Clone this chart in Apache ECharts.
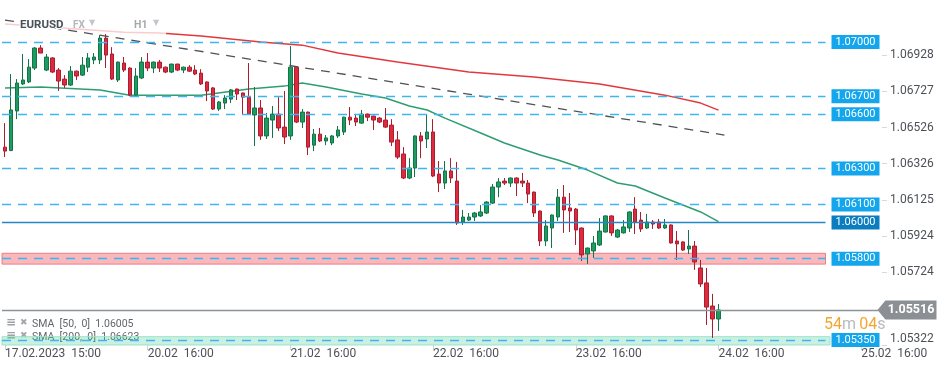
<!DOCTYPE html>
<html><head><meta charset="utf-8">
<script src="https://cdn.jsdelivr.net/npm/echarts@6/dist/echarts.min.js"></script>
<style>html,body{margin:0;padding:0;background:#fff}#c{width:949px;height:370px}</style>
</head><body><div id="c"></div>
<script>
// ---- data ----
// candle OHLC as [open, close, low, high], hourly from 17.02.2023 15:00
const candles = [
[1.06418,1.06396,1.06363,1.06551],[1.06399,1.06624,1.06396,1.06823],[1.06618,1.06773,1.06573,1.06795],
[1.06768,1.06790,1.06762,1.06934],[1.06779,1.06861,1.06773,1.06906],[1.06856,1.06967,1.06845,1.06972],
[1.06967,1.06939,1.06939,1.06983],[1.06845,1.06917,1.06839,1.06934],[1.06912,1.06834,1.06828,1.06917],
[1.06845,1.06784,1.06729,1.06856],[1.06795,1.06762,1.06746,1.06817],[1.06762,1.06839,1.06757,1.06867],
[1.06839,1.06812,1.06790,1.06842],[1.06817,1.06872,1.06812,1.06917],[1.06861,1.06912,1.06834,1.06939],
[1.06901,1.06917,1.06878,1.06939],[1.06901,1.07022,1.06878,1.07039],[1.07022,1.06928,1.06856,1.07044],
[1.06934,1.06795,1.06790,1.06972],[1.06790,1.06889,1.06779,1.06892],[1.06884,1.06845,1.06834,1.06917],
[1.06856,1.06706,1.06700,1.06860],[1.06706,1.06812,1.06701,1.06856],[1.06801,1.06889,1.06795,1.06917],
[1.06889,1.06856,1.06839,1.06939],[1.06856,1.06889,1.06828,1.06892],[1.06889,1.06856,1.06834,1.06901],
[1.06861,1.06834,1.06828,1.06864],[1.06834,1.06878,1.06828,1.06880],[1.06878,1.06845,1.06839,1.06880],
[1.06845,1.06861,1.06828,1.06864],[1.06861,1.06839,1.06834,1.06872],[1.06845,1.06823,1.06817,1.06872],
[1.06828,1.06768,1.06762,1.06850],[1.06779,1.06729,1.06673,1.06782],[1.06746,1.06629,1.06624,1.06751],
[1.06629,1.06668,1.06618,1.06673],[1.06662,1.06690,1.06629,1.06706],[1.06684,1.06735,1.06662,1.06740],
[1.06740,1.06712,1.06679,1.06742],[1.06718,1.06695,1.06601,1.06720],[1.06695,1.06601,1.06596,1.06884],
[1.06596,1.06635,1.06424,1.06751],[1.06635,1.06480,1.06458,1.06679],[1.06480,1.06579,1.06463,1.06607],
[1.06568,1.06601,1.06469,1.06646],[1.06601,1.06524,1.06507,1.06695],[1.06529,1.06474,1.06435,1.06729],
[1.06480,1.06861,1.06458,1.06978],[1.06861,1.06557,1.06551,1.06867],[1.06557,1.06612,1.06524,1.06629],
[1.06612,1.06418,1.06374,1.06615],[1.06429,1.06490,1.06396,1.06518],[1.06490,1.06452,1.06446,1.06524],
[1.06452,1.06469,1.06429,1.06485],[1.06441,1.06480,1.06429,1.06485],[1.06480,1.06513,1.06469,1.06535],
[1.06502,1.06584,1.06485,1.06587],[1.06584,1.06568,1.06540,1.06640],[1.06579,1.06557,1.06535,1.06596],
[1.06551,1.06601,1.06546,1.06624],[1.06601,1.06584,1.06562,1.06604],[1.06590,1.06568,1.06513,1.06592],
[1.06579,1.06557,1.06551,1.06584],[1.06568,1.06529,1.06524,1.06635],[1.06540,1.06446,1.06424,1.06573],
[1.06458,1.06363,1.06352,1.06507],[1.06380,1.06247,1.06241,1.06418],[1.06247,1.06302,1.06241,1.06357],
[1.06302,1.06480,1.06252,1.06483],[1.06480,1.06452,1.06357,1.06502],[1.06463,1.06502,1.06413,1.06601],
[1.06502,1.06258,1.06252,1.06573],[1.06269,1.06219,1.06169,1.06341],[1.06219,1.06286,1.06186,1.06341],
[1.06286,1.06247,1.06219,1.06357],[1.06230,1.05998,1.05987,1.06336],[1.06003,1.06031,1.05987,1.06070],
[1.06014,1.06031,1.06009,1.06053],[1.06031,1.06053,1.06009,1.06059],[1.06037,1.06059,1.06031,1.06097],
[1.06053,1.06114,1.06048,1.06119],[1.06108,1.06197,1.06103,1.06214],[1.06197,1.06225,1.06141,1.06247],
[1.06230,1.06219,1.06208,1.06247],[1.06219,1.06247,1.06197,1.06250],[1.06247,1.06219,1.06147,1.06250],
[1.06230,1.06219,1.06197,1.06275],[1.06219,1.06158,1.06108,1.06236],[1.06169,1.06053,1.06031,1.06172],
[1.06064,1.05898,1.05870,1.06067],[1.05898,1.05981,1.05870,1.06014],[1.05970,1.06042,1.05859,1.06045],
[1.06031,1.06141,1.06009,1.06186],[1.06141,1.06070,1.05943,1.06208],[1.06081,1.06064,1.05948,1.06164],
[1.06075,1.05959,1.05876,1.06081],[1.05970,1.05821,1.05787,1.05973],[1.05826,1.05859,1.05771,1.05862],
[1.05843,1.05887,1.05804,1.05926],[1.05876,1.05953,1.05870,1.06025],[1.05948,1.06037,1.05945,1.06040],
[1.06037,1.05943,1.05926,1.06040],[1.05920,1.05959,1.05915,1.05965],[1.05943,1.05976,1.05940,1.06014],
[1.05970,1.06059,1.05948,1.06062],[1.06075,1.06003,1.05937,1.06141],[1.06014,1.05965,1.05948,1.06059],
[1.05970,1.06003,1.05965,1.06048],[1.06003,1.05992,1.05965,1.06014],[1.06003,1.05970,1.05965,1.06020],
[1.05970,1.05987,1.05965,1.06020],[1.05987,1.05887,1.05884,1.05990],[1.05898,1.05882,1.05793,1.05953],
[1.05893,1.05848,1.05843,1.05896],[1.05854,1.05870,1.05826,1.05959],[1.05870,1.05782,1.05738,1.05898],
[1.05749,1.05660,1.05643,1.05793],[1.05666,1.05532,1.05433,1.05749],[1.05538,1.05466,1.05361,1.05605],
[1.05466,1.05516,1.05400,1.05549]
];
// SMA 50 read at candle indices [index, value]
const sma50 = [[0,1.06746],[6,1.06751],[16,1.06735],[21,1.06706],[33,1.06706],[41,1.06740],[47,1.06756],
[50,1.06773],[54,1.06751],[60,1.06712],[64,1.06690],[68,1.06646],[71,1.06624],[74,1.06579],[80,1.06496],
[84,1.06441],[90,1.06374],[93,1.06347],[98,1.06291],[103,1.06219],[106,1.06203],[111,1.06136],[117,1.06059],[120,1.06005]];
// SMA 200 read at candle indices
const sma200 = [[0,1.07100],[20,1.07055],[26,1.07050],[33,1.07033],[43,1.07000],[50,1.06983],[56,1.06939],
[66,1.06889],[78,1.06834],[89,1.06806],[100,1.06768],[111,1.06706],[117,1.06662],[120,1.06623]];
// descending trend line
const trend = [[0,1.07122],[121,1.06485]];
// horizontal levels
const dashedLevels = [1.07000, 1.06700, 1.06600, 1.06300, 1.06100];
const solidLevel = 1.06000;
const redZone = [1.05830, 1.05800, 1.05770];   // top, level, bottom
const tealZone = [1.05368, 1.05350, 1.05322];  // top, level, bottom
const lastPrice = 1.05516;
// axis ticks
const yTicks = [1.06928, 1.06727, 1.06526, 1.06326, 1.06125, 1.05924, 1.05724, 1.05322];
const xTickIdx = [0, 24, 48, 72, 96, 120, 144];
const xTickText = ['17.02.2023  15:00','20.02  16:00','21.02  16:00','22.02  16:00','23.02  16:00','24.02  16:00','25.02  16:00'];
const slotCount = 148;
const yMin = 1.05322, yMax = 1.07233;

// ---- chart ----
const categories = [];
for (let i = 0; i < slotCount; i++) categories.push(String(i));
const FONT = 'Roboto';
const BLUE = '#14a6ec';

function lvlLabel(bg, v) {
  return {show:true, position:'end', distance:6, formatter:v.toFixed(5),
    color:'#fff', backgroundColor:bg, fontFamily:FONT, fontSize:11, padding:[2,4,1,4]};
}
const levelLines = [];
dashedLevels.forEach(v => levelLines.push([
  {xAxis:0, x:2, yAxis:v, lineStyle:{color:'#3db5f0', type:[9,7], width:1.3}, label:lvlLabel(BLUE, v)},
  {xAxis:138, yAxis:v}]));
levelLines.push([
  {xAxis:0, x:2, yAxis:solidLevel, lineStyle:{color:'#2388c8', type:'solid', width:1.4}, label:lvlLabel('#0a7cc0', solidLevel)},
  {xAxis:138, yAxis:solidLevel}]);
levelLines.push([
  {xAxis:0, x:2, yAxis:redZone[1], lineStyle:{color:'#3db5f0', type:[9,7], width:1.3}, label:lvlLabel(BLUE, redZone[1])},
  {xAxis:138, yAxis:redZone[1]}]);
levelLines.push([
  {xAxis:0, x:2, yAxis:tealZone[1], lineStyle:{color:'#3db5f0', type:[9,7], width:1.3}, label:lvlLabel(BLUE, tealZone[1])},
  {xAxis:138, yAxis:tealZone[1]}]);
levelLines.push([
  {xAxis:0, x:2, yAxis:lastPrice, lineStyle:{color:'#8d9297', type:'solid', width:1.4}, label:{show:false}},
  {xAxis:147, x:878, yAxis:lastPrice}]);

const option = {
  animation:false,
  backgroundColor:'#ffffff',
  grid:{left:2, right:67, top:0, bottom:25, containLabel:false},
  xAxis:{
    type:'category', data:categories, boundaryGap:true,
    axisLine:{show:false},
    axisTick:{show:true, alignWithLabel:true, length:5, interval:(i)=>xTickIdx.includes(i), lineStyle:{color:'#cfd2d6'}},
    axisLabel:{show:true, interval:(i)=>xTickIdx.includes(i), align:'left', margin:3,
      formatter:(v,i)=>{const k=xTickIdx.indexOf(i); return k>=0?xTickText[k]:'';},
      color:'#4d5157', fontFamily:FONT, fontSize:12},
    splitLine:{show:false}
  },
  yAxis:{
    type:'value', position:'right', min:yMin, max:yMax, scale:true,
    axisLine:{show:false},
    splitLine:{show:false},
    axisTick:{show:true, length:5, customValues:yTicks, lineStyle:{color:'#d5d8dc'}},
    axisLabel:{show:true, margin:8, customValues:yTicks, color:'#4d5157', fontFamily:FONT, fontSize:12,
      formatter:(v)=> Math.abs(v-1.05322)<1e-7 ? '{lo|'+v.toFixed(5)+'}' : v.toFixed(5),
      rich:{lo:{color:'#4d5157', fontFamily:FONT, fontSize:12, padding:[0,0,12,0]}}}
  },
  graphic:[
    {type:'rect', shape:{x:0,y:12,width:166,height:26}, style:{fill:'rgba(255,255,255,0.75)'}, z:3},
    {type:'text', x:20, y:25, z:6, style:{text:'EURUSD', font:'bold 11.5px Roboto', fill:'#4a5058', verticalAlign:'middle', stroke:'#fff', lineWidth:2}},
    {type:'text', x:73, y:25, z:6, style:{text:'FX', font:'bold 10px Roboto', fill:'#b3b6ba', verticalAlign:'middle'}},
    {type:'text', x:89, y:23, z:6, style:{text:'▼', font:'8px DejaVu Sans', fill:'#c3c6ca', verticalAlign:'middle'}},
    {type:'text', x:134, y:25, z:6, style:{text:'H1', font:'bold 10.5px Roboto', fill:'#a5a8ac', verticalAlign:'middle'}},
    {type:'text', x:153, y:23, z:6, style:{text:'▼', font:'8px DejaVu Sans', fill:'#c3c6ca', verticalAlign:'middle'}},
    {type:'text', x:6, y:323, z:1, style:{text:'≡', font:'bold 12px DejaVu Sans', fill:'#9ea1a5', verticalAlign:'middle'}},
    {type:'text', x:20, y:323, z:1, style:{text:'✖', font:'9px DejaVu Sans', fill:'#a3a6aa', verticalAlign:'middle'}},
    {type:'text', x:32, y:324, z:1, style:{text:'SMA  [50,  0]  1.06005', font:'10.5px Roboto', fill:'#62666b', verticalAlign:'middle'}},
    {type:'text', x:6, y:336, z:1, style:{text:'≡', font:'bold 12px DejaVu Sans', fill:'#9ea1a5', verticalAlign:'middle'}},
    {type:'text', x:20, y:336, z:1, style:{text:'✖', font:'9px DejaVu Sans', fill:'#a3a6aa', verticalAlign:'middle'}},
    {type:'text', x:32, y:337, z:1, style:{text:'SMA  [200,  0]  1.06623', font:'10.5px Roboto', fill:'#62666b', verticalAlign:'middle'}},
    {type:'text', x:824, y:325, z:6, style:{text:'{o|54}{g|m} {o|04}{g|s}', verticalAlign:'middle',
      rich:{o:{fill:'#f7a531', font:'16px Roboto'}, g:{fill:'#b8bbbf', font:'16px Roboto'}}}}
  ],
  series:[
    {name:'levels', type:'line', data:[], z:2, clip:false, silent:true,
      markLine:{silent:true, symbol:['none','none'], data:levelLines},
      markPoint:{silent:true, data:[{xAxis:147, x:907, yAxis:lastPrice, value:lastPrice}],
        symbol:'path://M0,10 L8,0 L60,0 L60,20 L8,20 Z', symbolSize:[59,19], symbolKeepAspect:false,
        itemStyle:{color:'#8b9095'},
        label:{show:true, position:'inside', offset:[4,0], formatter:lastPrice.toFixed(5), color:'#fff',
          fontWeight:'bold', fontFamily:FONT, fontSize:12.5}}
    },
    {name:'SMA200', type:'line', data:sma200, symbol:'none', z:2, lineStyle:{color:'#e2383c', width:1.5}},
    {name:'SMA50', type:'line', data:sma50, symbol:'none', z:2, lineStyle:{color:'#2f9d72', width:1.5}},
    {name:'EURUSD', type:'candlestick', data:candles, barWidth:4, z:3,
      itemStyle:{color:'#1d9b61', color0:'#dd2a3e', borderColor:'#127448', borderColor0:'#a91f30', borderWidth:1}},
    {name:'trend', type:'line', data:trend, symbol:'none', z:4, lineStyle:{color:'#4d5258', width:1.3, type:[9,7]}},
    {name:'zones', type:'line', data:[], z:5, clip:false, silent:true,
      markArea:{silent:true, data:[
        [{xAxis:0, x:2, yAxis:redZone[0], itemStyle:{color:'rgba(240,70,80,0.38)', borderColor:'#f07c82', borderWidth:1}},
         {xAxis:138, yAxis:redZone[2]}],
        [{xAxis:0, x:2, yAxis:tealZone[0], itemStyle:{color:'rgba(60,200,150,0.28)', borderColor:'#9be3c7', borderWidth:1}},
         {xAxis:139, x:830, yAxis:tealZone[2]}]
      ]}
    }
  ]
};
const chart = echarts.init(document.getElementById('c'), null, {renderer:'canvas'});
chart.setOption(option);
</script></body></html>
